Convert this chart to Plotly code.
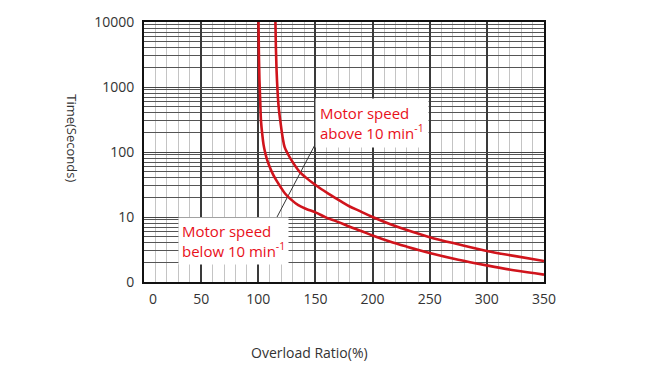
import plotly.graph_objects as go

# Overload ratio (%) vs time (s)
x_below = [100.2, 100.5, 101.0, 101.7, 102.4, 103.5, 104.6, 105.9, 107.8, 110.2, 113.0, 116.1,
           119.5, 123.4, 128.0, 135.0, 142.0, 150.0, 160.0, 169.0, 180.0, 190.0, 200.0, 215.0,
           230.0, 250.0, 275.0, 300.0, 325.0, 350.0]
t_below = [10000, 3500, 1300, 600, 296, 186, 130, 100, 75, 58, 45, 36,
           29, 23, 19, 15.2, 13.3, 11.8, 9.7, 8.5, 7.1, 6.1, 5.2, 4.2,
           3.5, 2.8, 2.2, 1.8, 1.5, 1.3]

x_above = [115.0, 115.4, 116.0, 116.8, 117.8, 119.5, 121.5, 123.0, 125.0, 129.0, 136.0, 142.0,
           148.0, 155.0, 162.0, 172.0, 180.0, 189.0, 200.0, 215.0, 230.0, 250.0, 275.0, 300.0,
           325.0, 350.0]
t_above = [10000, 4000, 1800, 900, 500, 280, 160, 120, 100, 75, 50, 40,
           33, 27, 22.5, 17.5, 14.5, 12.3, 10.0, 7.8, 6.3, 4.9, 3.8, 3.0,
           2.5, 2.1]

y_tickvals = [1, 10, 100, 1000, 10000]
y_ticktext = ["0", "10", "100", "1000", "10000"]
x_tickvals = [0, 50, 100, 150, 200, 250, 300, 350]
x_ticktext = ["\u00a0\u00a0\u00a0\u00a0\u00a00", "50", "100", "150", "200", "250", "300", "350"]

label_above = "Motor speed<br>above 10 min<sup>-1</sup>"
label_below = "Motor speed<br>below 10 min<sup>-1</sup>"

# leader line endpoints (overload %, seconds)
leader_x = [152.2, 116.4]
leader_t = [158, 10.0]

RED = "#d0141c"
TXT_RED = "#e8101a"
FONT = "Open Sans"

fig = go.Figure()
fig.add_trace(go.Scatter(x=leader_x, y=leader_t, mode="lines",
                         line=dict(color="#333333", width=1), hoverinfo="skip"))
fig.add_trace(go.Scatter(x=x_below, y=t_below, mode="lines", line_shape="spline",
                         line=dict(color=RED, width=2.6)))
fig.add_trace(go.Scatter(x=x_above, y=t_above, mode="lines", line_shape="spline",
                         line=dict(color=RED, width=2.6)))

minor_y = [m * d for d in [1, 10, 100, 1000] for m in range(2, 10)]

fig.update_layout(
    width=650, height=377,
    margin=dict(l=144, r=106, t=20, b=95),
    paper_bgcolor="white", plot_bgcolor="white",
    showlegend=False,
    font=dict(family=FONT, size=14, color="#333333"),
    xaxis=dict(range=[0, 350], tickvals=x_tickvals, ticktext=x_ticktext, showgrid=True,
               gridcolor="#3a3a3a", gridwidth=1.5, zeroline=False,
               showline=True, linecolor="#111111", linewidth=2, mirror=True,
               ticks="", ticklabelstandoff=3, tickfont=dict(size=14, color="#333333"),
               minor=dict(dtick=10, showgrid=True, gridcolor="#c4c4c4", gridwidth=1)),
    yaxis=dict(type="log", range=[0, 4], tickvals=y_tickvals, ticktext=y_ticktext,
               showgrid=True, gridcolor="#444444", gridwidth=1, zeroline=False,
               showline=True, linecolor="#111111", linewidth=2, mirror=True,
               ticks="", ticklabelstandoff=5, tickfont=dict(size=14, color="#333333"),
               minor=dict(tickvals=minor_y, showgrid=True, gridcolor="#555555", gridwidth=1)),
)

fig.add_annotation(text=label_above, xref="x", yref="y", x=149.6, y=2.826,
                   xanchor="left", yanchor="top", align="left", showarrow=False,
                   bgcolor="white", borderpad=4,
                   font=dict(family=FONT, size=15, color=TXT_RED))
fig.add_annotation(text=label_below, xref="x", yref="y", x=29.75, y=0.997,
                   xanchor="left", yanchor="top", align="left", showarrow=False,
                   bgcolor="white", borderpad=3,
                   font=dict(family=FONT, size=15, color=TXT_RED))
fig.add_annotation(text="Time(Seconds)", xref="paper", yref="paper", x=-0.18, y=0.553,
                   xanchor="center", yanchor="middle",
                   textangle=90, showarrow=False, font=dict(size=13, color="#333333"))
fig.add_annotation(text="Overload Ratio(%)", xref="paper", yref="paper", x=0.414, y=-0.271,
                   xanchor="center", yanchor="middle",
                   showarrow=False, font=dict(size=14, color="#333333"))

fig.write_html("out.html", config={"displayModeBar": False},
               post_script="document.body.style.margin='0';")
